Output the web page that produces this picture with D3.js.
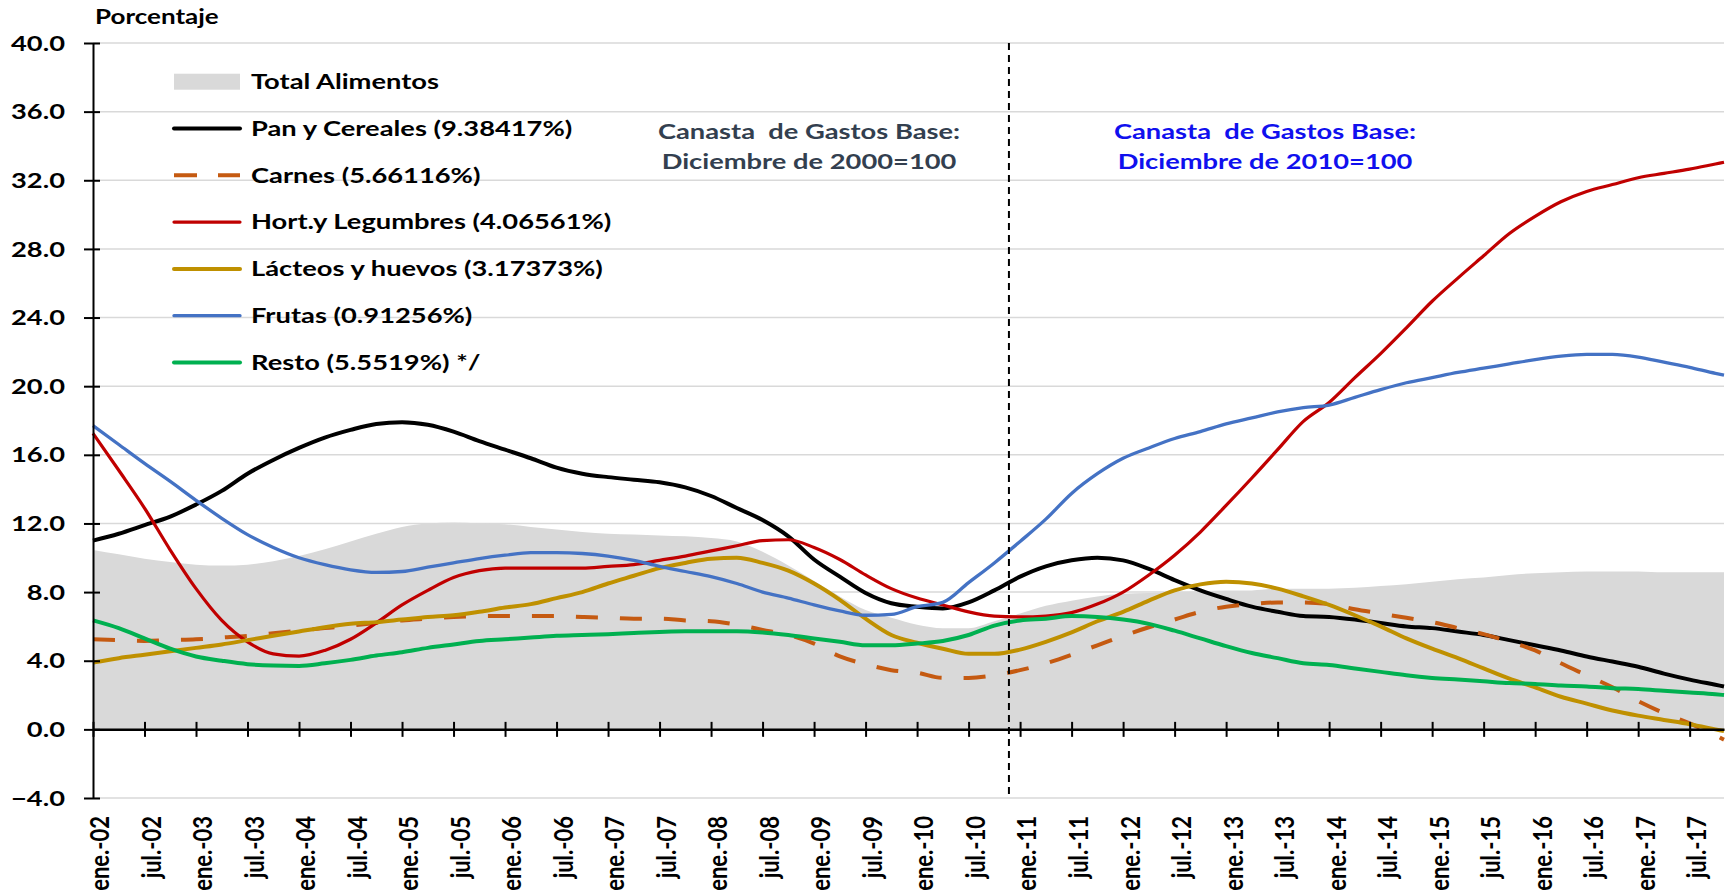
<!DOCTYPE html>
<html>
<head>
<meta charset="utf-8">
<script src="https://cdn.jsdelivr.net/npm/d3@7"></script>
<style>
  body { margin: 0; background: #fff; }
  svg { display: block; font-family: 'Lato', sans-serif; font-weight: 700; }
</style>
</head>
<body>
<svg></svg>
<script>
'use strict';

// months since ene.-02 at which the values below were read (quarterly + last month)
const monthIdx = d3.range(0, 190, 3).concat([190]);

const xTickLabels = [
  'ene.-02', 'jul.-02', 'ene.-03', 'jul.-03', 'ene.-04', 'jul.-04', 'ene.-05', 'jul.-05',
  'ene.-06', 'jul.-06', 'ene.-07', 'jul.-07', 'ene.-08', 'jul.-08', 'ene.-09', 'jul.-09',
  'ene.-10', 'jul.-10', 'ene.-11', 'jul.-11', 'ene.-12', 'jul.-12', 'ene.-13', 'jul.-13',
  'ene.-14', 'jul.-14', 'ene.-15', 'jul.-15', 'ene.-16', 'jul.-16', 'ene.-17', 'jul.-17'
];
const yTicks = [-4, 0, 4, 8, 12, 16, 20, 24, 28, 32, 36, 40];

const totalAlimentos = [
  10.45, 10.2, 9.95, 9.75, 9.6, 9.55, 9.6, 9.8, 10.1, 10.5, 10.95, 11.4, 11.8, 12.0, 12.05, 12.0, 11.95,
  11.8, 11.65, 11.5, 11.4, 11.35, 11.3, 11.25, 11.15, 10.95, 10.35, 9.55, 8.65, 7.75, 6.95, 6.5, 6.1,
  5.9, 5.9, 6.3, 6.75, 7.2, 7.5, 7.75, 7.9, 7.95, 8.0, 8.05, 8.1, 8.1, 8.2, 8.2,
  8.2, 8.25, 8.35, 8.45, 8.6, 8.75, 8.85, 9.0, 9.1, 9.15, 9.2, 9.2, 9.2, 9.15, 9.15, 9.15, 9.15
];
const panCereales = [
  11.0, 11.4, 11.9, 12.4, 13.1, 13.9, 14.9, 15.7, 16.4, 17.0, 17.45, 17.8, 17.9, 17.75, 17.35, 16.8, 16.3,
  15.8, 15.25, 14.9, 14.7, 14.55, 14.4, 14.1, 13.6, 12.9, 12.2, 11.25, 9.9, 8.9, 7.95, 7.35, 7.15,
  7.05, 7.4, 8.1, 8.9, 9.5, 9.85, 10.0, 9.85, 9.35, 8.7, 8.1, 7.6, 7.15, 6.85, 6.6,
  6.55, 6.4, 6.2, 6.0, 5.9, 5.7, 5.5, 5.2, 4.9, 4.6, 4.25, 3.95, 3.65, 3.25, 2.9, 2.6, 2.5
];
const carnes = [
  5.25, 5.2, 5.15, 5.2, 5.25, 5.35, 5.45, 5.6, 5.75, 5.9, 6.05, 6.2, 6.35, 6.45, 6.55, 6.6, 6.6,
  6.6, 6.6, 6.55, 6.5, 6.45, 6.45, 6.35, 6.3, 6.1, 5.8, 5.5, 5.0, 4.25, 3.8, 3.45, 3.3,
  3.0, 3.0, 3.15, 3.45, 3.85, 4.35, 4.9, 5.45, 5.95, 6.4, 6.85, 7.15, 7.3, 7.4, 7.4,
  7.3, 7.0, 6.75, 6.5, 6.25, 5.9, 5.55, 5.1, 4.6, 3.85, 3.15, 2.45, 1.65, 0.95, 0.35, -0.35, -0.6
];
const hortLegumbres = [
  17.25, 15.1, 12.9, 10.45, 8.2, 6.35, 5.1, 4.4, 4.27, 4.6, 5.25, 6.2, 7.25, 8.1, 8.85, 9.25, 9.4,
  9.4, 9.4, 9.4, 9.5, 9.6, 9.85, 10.1, 10.4, 10.7, 11.0, 11.05, 10.6, 9.9, 9.0, 8.2, 7.65,
  7.25, 6.85, 6.6, 6.55, 6.6, 6.8, 7.3, 8.0, 9.0, 10.15, 11.5, 13.05, 14.65, 16.3, 17.95,
  19.05, 20.5, 21.9, 23.4, 24.95, 26.3, 27.6, 28.9, 29.9, 30.75, 31.35, 31.75, 32.15, 32.4, 32.65, 32.95, 33.05
];
const lacteosHuevos = [
  3.9, 4.15, 4.35, 4.55, 4.75, 4.95, 5.2, 5.45, 5.7, 5.95, 6.15, 6.25, 6.4, 6.55, 6.65, 6.85, 7.1,
  7.3, 7.65, 8.0, 8.5, 8.95, 9.4, 9.7, 9.95, 10.0, 9.7, 9.25, 8.5, 7.55, 6.45, 5.5, 5.05,
  4.7, 4.4, 4.4, 4.65, 5.1, 5.65, 6.3, 6.85, 7.5, 8.1, 8.45, 8.6, 8.5, 8.2, 7.75,
  7.25, 6.65, 6.0, 5.3, 4.7, 4.15, 3.55, 2.95, 2.45, 1.9, 1.5, 1.1, 0.8, 0.55, 0.3, 0.0, -0.1
];
const frutas = [
  17.7, 16.6, 15.5, 14.45, 13.35, 12.3, 11.35, 10.6, 10.0, 9.6, 9.3, 9.15, 9.2, 9.45, 9.7, 9.95, 10.15,
  10.3, 10.3, 10.25, 10.1, 9.85, 9.5, 9.2, 8.9, 8.5, 8.0, 7.65, 7.25, 6.9, 6.65, 6.7, 7.15,
  7.4, 8.55, 9.7, 10.95, 12.25, 13.75, 14.9, 15.8, 16.4, 16.95, 17.35, 17.8, 18.15, 18.5, 18.75,
  18.9, 19.35, 19.8, 20.2, 20.5, 20.8, 21.05, 21.3, 21.55, 21.75, 21.85, 21.85, 21.7, 21.4, 21.1, 20.75, 20.65
];
const resto = [
  6.35, 5.9, 5.3, 4.7, 4.25, 4.0, 3.8, 3.72, 3.7, 3.85, 4.05, 4.3, 4.5, 4.75, 4.95, 5.15, 5.25,
  5.35, 5.45, 5.5, 5.55, 5.62, 5.68, 5.72, 5.72, 5.72, 5.65, 5.5, 5.3, 5.1, 4.9, 4.9, 5.0,
  5.15, 5.5, 6.05, 6.35, 6.45, 6.6, 6.55, 6.4, 6.15, 5.75, 5.3, 4.85, 4.45, 4.15, 3.85,
  3.75, 3.55, 3.35, 3.15, 3.0, 2.9, 2.8, 2.7, 2.65, 2.55, 2.5, 2.4, 2.35, 2.25, 2.15, 2.05, 2.0
];

// base change sits between nov.-10 and dic.-10
const baseChange = 106.7;

const lineSeries = [
  { name: 'Pan y Cereales (9.38417%)', values: panCereales, color: '#000000', width: 4 },
  { name: 'Carnes (5.66116%)', values: carnes, color: '#C55A11', width: 4, dash: '22,22' },
  { name: 'Hort.y Legumbres (4.06561%)', values: hortLegumbres, color: '#C00000', width: 3.2 },
  { name: 'Lácteos y huevos (3.17373%)', values: lacteosHuevos, color: '#BF9000', width: 4 },
  { name: 'Frutas (0.91256%)', values: frutas, color: '#4472C4', width: 3.3 },
  { name: 'Resto (5.5519%) */', values: resto, color: '#00B050', width: 4 }
];

const SX = 1.3; // horizontal stretch of the source picture's text

const svgWidth = 1727;
const svgHeight = 894;
const margin = { top: 43, right: 3, bottom: 96, left: 93 };
const width = svgWidth - margin.left - margin.right;
const height = svgHeight - margin.top - margin.bottom;

const svg = d3.select('svg')
  .attr('width', svgWidth)
  .attr('height', svgHeight);

const g = svg.append('g')
  .attr('transform', `translate(${margin.left}, ${margin.top})`);

const x = d3.scaleLinear().domain([0, 190]).range([0, width]);
const y = d3.scaleLinear().domain([-4, 40]).range([height, 0]);

// gridlines
g.append('g')
  .selectAll('line')
  .data(yTicks.filter(d => d !== 0))
  .join('line')
  .attr('x1', 0)
  .attr('x2', width)
  .attr('y1', d => y(d))
  .attr('y2', d => y(d))
  .attr('stroke', '#d9d9d9')
  .attr('stroke-width', 1.5);

// Total Alimentos area
const curve = d3.curveMonotoneX;
g.append('path')
  .datum(totalAlimentos)
  .attr('fill', '#d9d9d9')
  .attr('d', d3.area()
    .curve(curve)
    .x((d, i) => x(monthIdx[i]))
    .y0(y(0))
    .y1(d => y(d)));

// lines
lineSeries.forEach(s => {
  g.append('path')
    .datum(s.values)
    .attr('fill', 'none')
    .attr('stroke', s.color)
    .attr('stroke-width', s.width)
    .attr('stroke-dasharray', s.dash || null)
    .attr('stroke-linejoin', 'round')
    .attr('d', d3.line()
      .curve(curve)
      .x((d, i) => x(monthIdx[i]))
      .y(d => y(d)));
});

// y axis
const yAxis = g.append('g')
  .call(d3.axisLeft(y)
    .tickValues(yTicks)
    .tickSizeInner(9)
    .tickSizeOuter(0)
    .tickFormat(d3.format('.1f')));
yAxis.select('.domain').attr('stroke-width', 2);
yAxis.selectAll('.tick line').attr('x1', 7).attr('stroke-width', 2);
yAxis.selectAll('.tick text')
  .attr('x', null)
  .attr('dy', '0.34em')
  .attr('font-size', 21)
  .attr('font-family', 'Lato')
  .attr('font-weight', 700)
  .attr('fill', '#000')
  .attr('transform', `translate(-28, 0) scale(${SX}, 1)`);

// x axis at zero
const xAxis = g.append('g')
  .attr('transform', `translate(0, ${y(0)})`)
  .call(d3.axisBottom(x)
    .tickValues(d3.range(0, 187, 6))
    .tickSizeInner(7.5)
    .tickSizeOuter(0)
    .tickFormat(''));
xAxis.select('.domain').attr('stroke-width', 2.5);
xAxis.selectAll('.tick line').attr('y1', -7.5).attr('stroke-width', 2);

// x tick labels
g.append('g')
  .selectAll('text')
  .data(xTickLabels)
  .join('text')
  .attr('text-anchor', 'end')
  .attr('dy', '0.35em')
  .attr('font-size', 22)
  .attr('transform', (d, i) =>
    `translate(${x(i * 6) + 7}, ${height + 18}) rotate(-90) scale(1, 1.22)`)
  .text(d => d);

// base change marker
g.append('line')
  .attr('x1', x(baseChange))
  .attr('x2', x(baseChange))
  .attr('y1', y(40))
  .attr('y2', y(-4))
  .attr('stroke', '#000')
  .attr('stroke-width', 2)
  .attr('stroke-dasharray', '7,5');

// annotations
const notes = [
  { lines: ['Canasta  de Gastos Base:', 'Diciembre de 2000=100'], cx: 809, color: '#333F4F' },
  { lines: ['Canasta  de Gastos Base:', 'Diciembre de 2010=100'], cx: 1265, color: '#1010EE' }
];
notes.forEach(n => {
  n.lines.forEach((t, j) => {
    svg.append('text')
      .attr('text-anchor', 'middle')
      .attr('font-size', 21)
      .attr('fill', n.color)
      .attr('xml:space', 'preserve')
      .style('white-space', 'pre')
      .attr('transform', `translate(${n.cx}, ${139 + j * 29.5}) scale(${SX}, 1)`)
      .text(t);
  });
});

// axis title
svg.append('text')
  .attr('font-size', 20)
  .attr('transform', `translate(95, 24) scale(${SX}, 1)`)
  .text('Porcentaje');

// legend
const legend = svg.append('g');
const rowY = i => 81.7 + i * 46.8;
legend.append('rect')
  .attr('x', 174)
  .attr('y', rowY(0) - 8)
  .attr('width', 66)
  .attr('height', 16)
  .attr('fill', '#d9d9d9');
legend.append('text')
  .attr('dy', '0.35em')
  .attr('font-size', 21)
  .attr('transform', `translate(251, ${rowY(0)}) scale(${SX}, 1)`)
  .text('Total Alimentos');
lineSeries.forEach((s, i) => {
  legend.append('line')
    .attr('x1', 174)
    .attr('x2', 240)
    .attr('y1', rowY(i + 1))
    .attr('y2', rowY(i + 1))
    .attr('stroke', s.color)
    .attr('stroke-width', s.width)
    .attr('stroke-dasharray', s.dash ? '23,21' : null)
    .attr('stroke-linecap', s.dash ? 'butt' : 'round');
  legend.append('text')
    .attr('dy', '0.35em')
    .attr('font-size', 21)
    .attr('transform', `translate(251, ${rowY(i + 1)}) scale(${SX}, 1)`)
    .text(s.name);
});
</script>
</body>
</html>
